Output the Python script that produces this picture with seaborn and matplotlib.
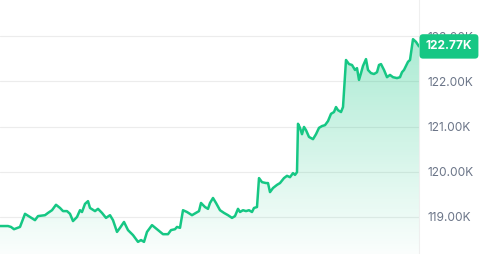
import numpy as np
import pandas as pd
import matplotlib
matplotlib.use("Agg")
import matplotlib.pyplot as plt
import matplotlib.transforms as mtransforms
from matplotlib.colors import LinearSegmentedColormap
import seaborn as sns

# ---- data ----
time_step = [0, 8, 11, 14, 20, 25, 30, 35, 38, 45, 48, 52, 56, 60, 63, 67, 70, 73, 77, 80,
             82, 85, 88, 90, 95, 98, 102, 106, 110, 113, 117, 120, 124, 128, 133, 138, 141, 144, 147, 152,
             158, 163, 168, 171, 175, 177, 180, 183, 187, 192, 196, 199, 201, 205, 208, 210, 213, 216, 220, 224,
             228, 232, 235, 238, 240, 243, 246, 249, 252, 254, 257, 259, 262, 266, 268, 270, 273, 277, 280, 284,
             287, 290, 293, 295, 297, 298, 300, 302, 304, 306, 309, 313, 316, 319, 322, 325, 328, 331, 334, 336,
             338, 341, 343, 346, 349, 352, 355, 357, 359, 361, 363, 366, 368, 371, 374, 377, 379, 381, 384, 387,
             390, 393, 397, 400, 402, 404, 406, 408, 410, 413, 416, 419]
price_k = [118.80, 118.80, 118.78, 118.73, 118.78, 119.07, 119.00, 118.93, 119.02, 119.04,
           119.09, 119.15, 119.27, 119.20, 119.13, 119.13, 119.07, 118.91, 119.00, 119.15,
           119.11, 119.29, 119.35, 119.20, 119.13, 119.18, 119.09, 118.98, 119.04, 118.93,
           118.67, 118.76, 118.89, 118.71, 118.60, 118.45, 118.49, 118.45, 118.67, 118.82,
           118.71, 118.62, 118.62, 118.71, 118.73, 118.78, 118.76, 119.15, 119.11, 119.04,
           119.09, 119.13, 119.31, 119.22, 119.18, 119.31, 119.42, 119.31, 119.15, 119.09,
           119.04, 118.98, 119.02, 119.18, 119.11, 119.15, 119.13, 119.15, 119.11, 119.20,
           119.22, 119.86, 119.77, 119.75, 119.75, 119.55, 119.64, 119.71, 119.75, 119.86,
           119.91, 119.88, 119.97, 119.93, 119.99, 121.06, 120.97, 120.83, 120.99, 120.92,
           120.77, 120.72, 120.83, 120.97, 121.01, 121.03, 121.12, 121.28, 121.32, 121.43,
           121.36, 121.32, 121.43, 122.47, 122.38, 122.36, 122.25, 122.29, 122.03, 122.18,
           122.34, 122.49, 122.25, 122.18, 122.16, 122.20, 122.36, 122.38, 122.25, 122.09,
           122.14, 122.09, 122.07, 122.09, 122.20, 122.25, 122.34, 122.43, 122.47, 122.93,
           122.87, 122.77]
y_ticks = [119, 120, 121, 122, 123]
y_tick_labels = ["119.00K", "120.00K", "121.00K", "122.00K", "123.00K"]
current_label = "122.77K"
current_value = 122.77

df = pd.DataFrame({"t": time_step, "price": price_k})

GREEN = "#16c784"
TICK_COLOR = "#6b7588"

sns.set_theme(style="white")
plt.rcParams["font.family"] = ["Inter", "DejaVu Sans"]

fig = plt.figure(figsize=(5.0, 2.54), dpi=100)
ax = fig.add_axes([0.0, 0.0, 0.838, 1.0])

ymin, ymax = 118.182, 123.796
ax.set_xlim(min(time_step), max(time_step))
ax.set_ylim(ymin, ymax)

# gradient fill under line
poly = ax.fill_between(df["t"], df["price"], ymin, color="none", lw=0)
cmap = LinearSegmentedColormap.from_list(
    "g", [(0.086, 0.78, 0.52, 0.02), (0.086, 0.78, 0.52, 0.36)])
grad = np.linspace(0, 1, 256).reshape(-1, 1)
im = ax.imshow(grad, aspect="auto", cmap=cmap, origin="lower",
               extent=[min(time_step), max(time_step), ymin, 122.95], zorder=1)
path = poly.get_paths()[0]
im.set_clip_path(path, transform=ax.transData)

sns.lineplot(data=df, x="t", y="price", ax=ax, color=GREEN, linewidth=1.8, zorder=3)

# grid and axis styling
ax.set_yticks(y_ticks)
ax.set_yticklabels(y_tick_labels)
ax.yaxis.tick_right()
ax.tick_params(axis="y", length=0, pad=6, labelsize=8.6, labelcolor=TICK_COLOR)
ax.set_xticks([])
ax.grid(axis="y", color="#ececec", linewidth=0.8)
ax.set_axisbelow(True)
for side in ["top", "left", "bottom"]:
    ax.spines[side].set_visible(False)
ax.spines["right"].set_color("#efefef")
ax.spines["right"].set_linewidth(0.8)
ax.set_xlabel("")
ax.set_ylabel("")

# current price badge
trans = mtransforms.blended_transform_factory(ax.transAxes, ax.transData)
ax.text(1.016, current_value, current_label, transform=trans, ha="left", va="center",
        color="white", fontsize=8.6, fontweight="bold", clip_on=False, zorder=10,
        bbox=dict(boxstyle="round,pad=0.52,rounding_size=0.3", fc=GREEN, ec="none"))

fig.savefig("out.png", dpi=100)
